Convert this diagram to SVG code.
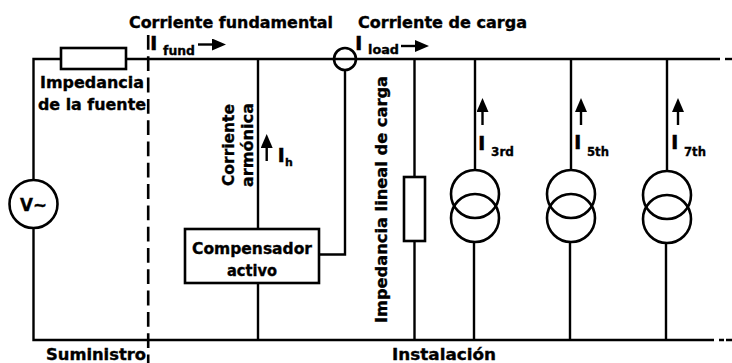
<svg xmlns="http://www.w3.org/2000/svg" width="732" height="363" viewBox="0 0 732 363">
<defs>
<marker id="ah" markerUnits="userSpaceOnUse" markerWidth="15" markerHeight="13" refX="1" refY="6" orient="auto"><path d="M0 0L14 6L0 12Z" fill="#000"/></marker>
</defs>
<style>
.l{fill:none;stroke:#000;stroke-width:2.4}
.b{fill:#fff;stroke:#000;stroke-width:2.6}
.c{fill:none;stroke:#000;stroke-width:2.6}
.a{fill:none;stroke:#000;stroke-width:2.4;marker-end:url(#ah)}
text{font-family:"DejaVu Sans",Verdana,sans-serif;font-weight:bold;fill:#000;stroke:#000;stroke-width:.35;font-size:15px}
.s{font-size:13px}
.i{font-size:20px}
</style>
<g id="connectors">
<path class="l" d="M33.500 180V59H61M126 59H720"/>
<path class="l" d="M725 59H732"/>
<path class="l" d="M33.500 228V340H714M719 340H724M726 340H732"/>
<path class="l" d="M258 59V229M258 283V340"/>
<path class="l" d="M345 70V254.500H319"/>
<path class="l" d="M414.500 59V177M414.500 241V340"/>
<path class="l" d="M475 59V170M474 242V340"/>
<path class="l" d="M571 59V170M570 242V340"/>
<path class="l" d="M667 59V171M666 243V340"/>
<path d="M148.200 35V363" fill="none" stroke="#000" stroke-width="2.600" stroke-dasharray="14.800 6.500"/>
<path class="a" d="M198 44.500H213"/>
<path class="a" d="M401 46H416"/>
<path class="a" d="M266.700 161V147"/>
<path class="a" d="M482.500 125V111"/>
<path class="a" d="M581 125V111"/>
<path class="a" d="M678 125V111"/>
</g>
<g id="source-impedance"><rect class="b" x="61" y="48" width="65" height="21"/></g>
<g id="source"><circle class="b" cx="33.500" cy="204" r="24"/><text x="33.500" y="211" text-anchor="middle" textLength="27" lengthAdjust="spacingAndGlyphs" style="font-size:18px">V~</text></g>
<g id="sensor"><circle class="c" cx="345" cy="59" r="11"/></g>
<g id="compensator"><rect class="b" x="185" y="229" width="134" height="54"/><text x="252" y="254" text-anchor="middle" textLength="120" lengthAdjust="spacingAndGlyphs">Compensador</text><text x="252" y="276" text-anchor="middle" textLength="50" lengthAdjust="spacingAndGlyphs">activo</text></g>
<g id="load"><rect class="b" x="404" y="177" width="21" height="64"/></g>
<g id="source-3rd"><circle class="c" cx="475" cy="194" r="24"/><circle class="c" cx="475" cy="218" r="24"/></g>
<g id="source-5th"><circle class="c" cx="571" cy="194" r="24"/><circle class="c" cx="571" cy="218" r="24"/></g>
<g id="source-7th"><circle class="c" cx="667" cy="195" r="24"/><circle class="c" cx="667" cy="219" r="24"/></g>
<g id="labels">
<text x="129" y="28" textLength="204" lengthAdjust="spacingAndGlyphs">Corriente fundamental</text>
<text x="358" y="28" textLength="169" lengthAdjust="spacingAndGlyphs">Corriente de carga</text>
<text x="150" y="49.500" class="i">I</text>
<text x="163" y="55" class="s" textLength="32" lengthAdjust="spacingAndGlyphs">fund</text>
<text x="355" y="50" class="i">I</text>
<text x="368" y="54" class="s" textLength="31" lengthAdjust="spacingAndGlyphs">load</text>
<text x="40" y="88" textLength="104" lengthAdjust="spacingAndGlyphs">Impedancia</text>
<text x="38" y="110" textLength="108" lengthAdjust="spacingAndGlyphs">de la fuente</text>
<text transform="translate(234 186) rotate(-90)" textLength="82" lengthAdjust="spacingAndGlyphs">Corriente</text>
<text transform="translate(252.700 187) rotate(-90)" textLength="84" lengthAdjust="spacingAndGlyphs">armónica</text>
<text x="277.500" y="162" class="i">I</text><text x="285" y="166" class="s" style="font-size:11px">h</text>
<text transform="translate(387 323) rotate(-90)" textLength="247" lengthAdjust="spacingAndGlyphs">Impedancia lineal de carga</text>
<text x="478" y="150" class="i">I</text><text x="491" y="156" class="s" textLength="23" lengthAdjust="spacingAndGlyphs">3rd</text>
<text x="574" y="149" class="i">I</text><text x="587" y="156" class="s" textLength="22" lengthAdjust="spacingAndGlyphs">5th</text>
<text x="671" y="149" class="i">I</text><text x="684" y="156" class="s" textLength="22" lengthAdjust="spacingAndGlyphs">7th</text>
<text x="46" y="360" textLength="100" lengthAdjust="spacingAndGlyphs">Suministro</text>
<text x="392" y="360" textLength="104" lengthAdjust="spacingAndGlyphs">Instalación</text>
</g>
</svg>
